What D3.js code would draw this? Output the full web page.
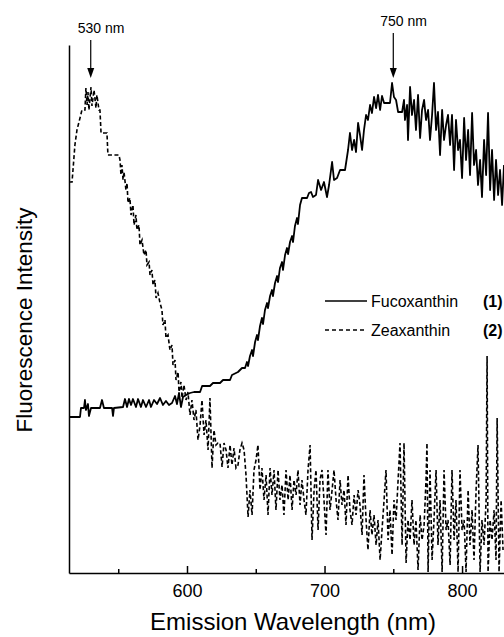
<!DOCTYPE html>
<html>
<head>
<meta charset="utf-8">
<script src="https://cdn.jsdelivr.net/npm/d3@7"></script>
<style>
	body { margin: 0; background: #fff; }
	svg { display: block; font-family: "Liberation Sans", Arial, sans-serif; }
</style>
</head>
<body>
<div class="chart"></div>
<script>
var width = 504, height = 637;

// emission spectra, wavelength (nm) / intensity (arbitrary units)
var fucoWl = [514.2, 522.2, 522.9, 525.1, 525.8, 526.5, 528.0, 528.7, 530.2, 536.7, 538.2, 539.6, 545.5, 546.2, 546.9,
	553.5, 554.9, 556.4, 557.8, 559.3, 560.7, 562.9, 564.4, 566.5, 568.0, 570.2, 572.4, 573.8, 576.0, 578.2, 580.4,
	582.5, 584.7, 586.9, 589.1, 591.3, 592.7, 594.2, 595.6, 597.1, 599.3, 602.2, 605.1, 609.5, 611.0, 616.7, 618.9,
	624.0, 626.2, 631.3, 632.7, 637.1, 640.0, 642.2, 643.6, 644.4, 645.8, 647.3, 648.0, 649.5, 650.9, 651.6, 653.1,
	654.5, 655.3, 656.7, 658.2, 658.9, 660.4, 661.8, 662.5, 664.0, 665.5, 666.2, 667.6, 669.1, 669.8, 671.3, 672.7,
	673.5, 674.9, 676.4, 677.1, 678.5, 680.0, 680.7, 682.2, 683.6, 687.3, 688.7, 690.2, 691.6, 693.8, 695.3, 697.5,
	699.6, 701.8, 703.3, 705.5, 706.9, 709.1, 711.3, 714.9, 717.1, 718.5, 720.0, 721.5, 722.9, 724.4, 725.8, 727.3,
	728.7, 730.2, 731.6, 733.1, 734.5, 736.0, 737.5, 738.9, 740.4, 741.8, 743.3, 747.6, 749.1, 750.5, 752.0, 753.5,
	756.4, 757.8, 758.5, 760.0, 760.7, 762.2, 763.6, 765.1, 766.5, 768.0, 769.5, 770.9, 772.4, 773.8, 775.3, 776.7,
	778.2, 779.6, 781.1, 782.5, 784.0, 785.5, 786.9, 788.4, 789.8, 791.3, 792.7, 794.2, 795.6, 797.1, 798.5, 800.0,
	801.5, 802.9, 804.4, 805.8, 807.3, 808.7, 810.2, 811.6, 813.1, 814.5, 816.0, 817.5, 818.9, 820.4, 821.8, 823.3,
	824.7, 826.2, 827.6, 829.1, 830.5];
var fucoInt = [31.2, 31.2, 33, 33, 34.6, 32.6, 33.8, 31.4, 33, 33, 34.6, 33, 33, 31.4, 33,
	33.2, 34.8, 33.2, 34.8, 33.6, 34.8, 33.2, 34.8, 33.2, 34.6, 33.2, 34.6, 33.2, 34.6, 33.8, 35,
	33.6, 34.4, 33.6, 34, 35.4, 33.8, 36, 33.2, 35.2, 35.6, 36, 36.2, 36.2, 37.4, 37.4, 38,
	38, 38.6, 38.6, 39.6, 40.2, 41, 41, 42.2, 41.4, 43.4, 44.6, 43.4, 46.2, 47.6, 46.6, 49.4,
	51, 49.8, 52.6, 54, 53, 55.4, 56.6, 55.4, 58, 59.4, 58.2, 61, 62.2, 60.6, 63.6, 65,
	63.8, 66.2, 67.4, 66.2, 69.4, 71, 69.8, 73.6, 75, 75, 76, 76.2, 75.2, 75.6, 78.6, 76.6,
	78.2, 75.2, 77.6, 82.2, 78.6, 79, 80.6, 80.6, 84.6, 88, 84.6, 86.6, 84.2, 90, 87.6, 84.6,
	88.6, 91.6, 90.6, 93.6, 92, 95.2, 93, 95.6, 92.6, 95.4, 94, 94, 98, 95.2, 94.6, 92.2,
	92.2, 94.6, 90.6, 93.6, 86.6, 97.2, 91.6, 94.6, 88.6, 95.6, 87, 92.6, 94.6, 90.6, 92.6, 86.6,
	91.6, 98, 88.6, 92.2, 83.6, 92.6, 86.6, 89.6, 91.6, 85.6, 91.6, 80.6, 90.6, 84.6, 86.6, 79,
	91, 82.6, 88.6, 79.6, 92, 81.6, 84.6, 77.6, 82.6, 75.2, 86.6, 79.6, 92, 76.6, 84.6, 74.6,
	82.6, 75.6, 80.6, 73.6, 81.6];

var zeaWl = [514.2, 516.4, 517.1, 518.5, 520.0, 522.2, 523.6, 525.8, 526.5, 527.3, 528.0, 528.7, 530.2, 530.9, 532.4,
	533.8, 534.5, 536.0, 536.7, 537.5, 541.8, 542.5, 550.5, 551.3, 552.0, 552.7, 553.5, 554.2, 555.6, 556.4, 557.1,
	558.5, 559.3, 560.7, 561.5, 562.9, 563.6, 565.1, 565.8, 567.3, 568.7, 570.2, 570.9, 572.4, 573.1, 574.5, 575.3,
	576.7, 577.5, 578.9, 580.4, 581.8, 582.5, 584.0, 584.7, 586.2, 587.6, 589.1, 589.8, 591.3, 592.0, 593.5, 594.2,
	595.6, 596.4, 597.8, 599.3, 600.7, 602.2, 603.6, 605.1, 606.5, 608.0, 609.5, 610.9, 612.4, 613.8, 615.3, 616.7,
	618.2, 619.6, 621.1, 622.5, 624.0, 625.5, 626.9, 628.4, 629.8, 631.3, 632.7, 634.2, 635.6, 637.1, 638.5, 640.0,
	641.5, 642.9, 644.4, 645.8, 647.3, 648.7, 650.2, 651.6, 653.1, 654.5, 656.0, 657.5, 658.9, 660.4, 661.8, 663.3,
	664.7, 666.2, 667.6, 669.1, 670.5, 672.0, 673.5, 674.9, 676.4, 677.8, 679.3, 680.7, 682.2, 683.6, 685.1, 686.5,
	688.0, 689.5, 690.9, 692.4, 693.8, 695.3, 696.7, 698.2, 699.6, 701.1, 702.5, 704.0, 705.5, 706.9, 708.4, 709.8,
	711.3, 712.7, 714.2, 715.6, 717.1, 718.5, 720.0, 721.5, 722.9, 724.4, 725.8, 727.3, 728.7, 730.2, 731.6, 733.1,
	734.5, 736.0, 737.5, 738.9, 740.4, 741.8, 743.3, 744.7, 746.2, 747.6, 749.1, 750.5, 752.0, 753.5, 754.9, 756.4,
	757.8, 759.3, 760.7, 762.2, 763.6, 765.1, 766.5, 768.0, 769.5, 770.9, 772.4, 773.8, 774.5, 775.3, 776.7, 778.2,
	779.6, 781.1, 782.5, 784.0, 785.5, 786.9, 788.4, 789.8, 791.3, 792.7, 794.2, 795.6, 797.1, 798.5, 800.0, 801.5,
	802.9, 804.4, 805.8, 807.3, 808.7, 810.2, 811.6, 813.1, 814.5, 816.0, 817.5, 818.2, 818.9, 820.4, 821.8, 823.3,
	824.7, 825.5, 826.9, 828.4, 829.8];
var zeaInt = [78.2, 78.2, 80.6, 85.6, 88.6, 91, 92.6, 92.6, 97, 93.6, 96.2, 92.6, 97.2, 93.4, 96.6,
	93, 95.6, 92.6, 92.6, 88, 88, 83.6, 83.6, 82.6, 79.6, 81.6, 78.6, 80.2, 76.6, 78, 74,
	75, 71.6, 73.6, 69.6, 71.6, 68.6, 69.6, 65.6, 66.6, 63.6, 64.6, 61.6, 62.2, 59.6, 60.6, 57.6,
	58.6, 55, 56, 54, 52.6, 49.6, 50.6, 47, 47.6, 44.6, 45.6, 41.6, 42.6, 38.6, 40.2, 36.2,
	38.2, 35, 37.6, 34.6, 36.2, 31.6, 34.6, 30.6, 32.6, 26.6, 29.6, 34.6, 27.6, 30.6, 24.6, 35,
	21, 28.6, 25.6, 26, 26, 21.2, 26, 24.6, 21, 25.6, 21.6, 25, 21, 21.6, 24.6, 26,
	24.6, 19.6, 11.2, 16.6, 11.6, 20.6, 22.6, 25.6, 16.6, 21, 14.6, 19.6, 11.6, 21, 15.6, 20.6,
	12.6, 20.6, 14.6, 17.6, 11.6, 20.6, 14.6, 19.6, 12.6, 18.6, 15.6, 20.6, 13.6, 18.6, 14.6, 11.6,
	20.6, 25.6, 6.6, 16.6, 20.6, 8.6, 18.6, 20.6, 14.6, 7.6, 20.6, 12.6, 16.6, 20.6, 14.6, 10.6,
	18.6, 13.6, 16.6, 9.6, 19.6, 12.6, 9.6, 15.6, 11.6, 16.6, 13.6, 7.6, 19.6, 10.6, 4.6, 12.6,
	7.6, 11.6, 5.6, 10.6, 2.6, 8.6, 14.6, 20.6, 6.6, 12.6, 3.6, 14.6, 10.6, 18.6, 26, 5.6,
	26, 2, 10.6, 6.6, 14.6, 5.6, 10.6, 0.6, 11.6, 6.6, 9.6, 18.6, 26, 0.2, 20.6, 2.6,
	10.6, 20.6, 5.6, 14.6, 0.2, 20.6, 8.6, 10.6, 1.6, 20.6, 6.6, 14.6, 0.2, 20.6, 8.6, 10.6,
	0.2, 16.6, 5.6, 12.6, 2.6, 16.6, 25.6, 0.2, 10.6, 5.6, 14.6, 43.4, 0.2, 10.6, 6.6, 12.6,
	2.6, 31, 0.2, 14.6, 4.6];

var majorTicks = [600, 700, 800];
var minorTicks = [550, 650, 750];
var peakMarks = [{ nm: 530, label: "530 nm" }, { nm: 750, label: "750 nm" }];
var seriesNames = ["Fucoxanthin", "Zeaxanthin"];
var seriesNums = ["(1)", "(2)"];

var x = d3.scaleLinear().domain([514.2, 830.5]).range([69, 504]);
var y = d3.scaleLinear().domain([0, 105.6]).range([573, 45]);

var svg = d3.select('.chart')
	.append('svg')
	.attr('width', width)
	.attr('height', height);

svg.append('defs').append('clipPath')
	.attr('id', 'plot')
	.append('rect')
	.attr('x', 69).attr('y', 0)
	.attr('width', 435).attr('height', 573);

var line = d3.line()
	.x(function(d) { return x(d[0]); })
	.y(function(d) { return y(d[1]); });

var fuco = fucoWl.map(function(w, i) { return [w, fucoInt[i]]; });
var zea = zeaWl.map(function(w, i) { return [w, zeaInt[i]]; });

var plot = svg.append('g').attr('clip-path', 'url(#plot)');

plot.append('path')
	.datum(zea)
	.attr('d', line)
	.attr('fill', 'none')
	.attr('stroke', '#000')
	.attr('stroke-width', 1.6)
	.attr('stroke-dasharray', '4,2.5');

plot.append('path')
	.datum(fuco)
	.attr('d', line)
	.attr('fill', 'none')
	.attr('stroke', '#000')
	.attr('stroke-width', 1.8)
	.attr('stroke-linejoin', 'round');

// axes
var xAxis = svg.append('g')
	.attr('transform', 'translate(0,573)')
	.call(d3.axisBottom(x).tickValues(majorTicks).tickSize(-7).tickSizeOuter(0).tickPadding(11));
svg.append('g')
	.attr('transform', 'translate(0,573)')
	.call(d3.axisBottom(x).tickValues(minorTicks).tickSize(-4).tickSizeOuter(0).tickFormat(''))
	.select('.domain').remove();
xAxis.selectAll('text')
	.attr('font-size', 18)
	.attr('font-family', '"Liberation Sans", Arial, sans-serif')
	.attr('fill', '#000');
svg.selectAll('.domain, .tick line')
	.attr('stroke', '#000')
	.attr('stroke-width', 1.5);

svg.append('g')
	.attr('transform', 'translate(69,0)')
	.call(d3.axisLeft(y).tickValues([]).tickSizeOuter(0))
	.select('.domain')
	.attr('stroke', '#000')
	.attr('stroke-width', 1.5);

svg.append('text')
	.attr('x', 293)
	.attr('y', 630)
	.attr('text-anchor', 'middle')
	.attr('font-size', 24)
	.text('Emission Wavelength (nm)');

svg.append('text')
	.attr('transform', 'translate(32,320) rotate(-90)')
	.attr('text-anchor', 'middle')
	.attr('font-size', 22.5)
	.text('Fluorescence Intensity');

// peak arrows
var marks = svg.selectAll('.mark')
	.data(peakMarks)
	.enter().append('g')
	.attr('class', 'mark');
var topY = [40, 33], tipY = 78;
marks.append('line')
	.attr('x1', function(d) { return x(d.nm); })
	.attr('x2', function(d) { return x(d.nm); })
	.attr('y1', function(d, i) { return topY[i]; })
	.attr('y2', tipY - 6)
	.attr('stroke', '#000')
	.attr('stroke-width', 1.2);
marks.append('path')
	.attr('d', function(d) {
		var cx = x(d.nm);
		return 'M' + (cx - 3.5) + ',' + (tipY - 10) + 'L' + (cx + 3.5) + ',' + (tipY - 10) + 'L' + cx + ',' + tipY + 'Z';
	})
	.attr('fill', '#000');
marks.append('text')
	.attr('x', function(d) { return x(d.nm) - 13; })
	.attr('y', function(d, i) { return topY[i] - 7; })
	.attr('font-size', 14)
	.text(function(d) { return d.label; });

// legend
var legend = svg.selectAll('.legend')
	.data(seriesNames)
	.enter().append('g')
	.attr('class', 'legend')
	.attr('transform', function(d, i) { return 'translate(0,' + (301 + i * 29) + ')'; });
legend.append('line')
	.attr('x1', 325).attr('x2', 367)
	.attr('stroke', '#000')
	.attr('stroke-width', function(d, i) { return i ? 1.4 : 1.6; })
	.attr('stroke-dasharray', function(d, i) { return i ? '4,3' : null; });
legend.append('text')
	.attr('x', 371)
	.attr('y', 6)
	.attr('font-size', 16)
	.text(function(d) { return d; });
legend.append('text')
	.attr('x', 483)
	.attr('y', 6)
	.attr('font-size', 16)
	.attr('font-weight', 'bold')
	.text(function(d, i) { return seriesNums[i]; });
</script>
</body>
</html>
